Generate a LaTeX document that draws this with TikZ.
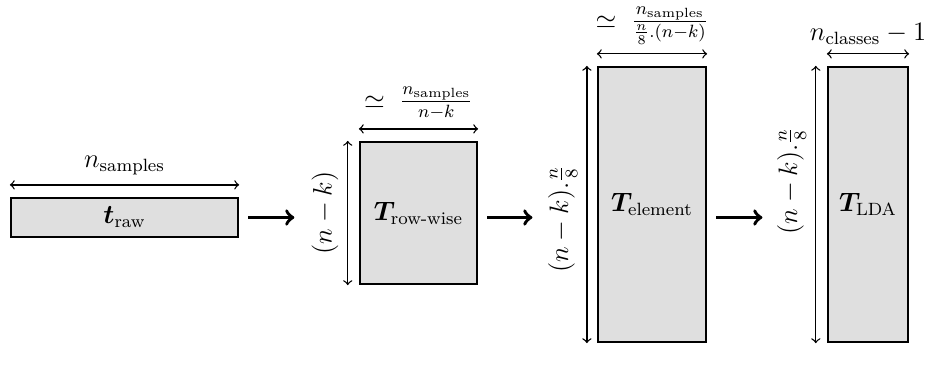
\documentclass[12pt,tikz,border=0pt]{standalone}
\usepackage{amsmath,bm}
\usetikzlibrary{positioning}
\tikzset{
  matbox/.style={draw, line width=1pt, fill=gray!25, inner sep=0pt},
  dimarrow/.style={<->, semithick},
  steparrow/.style={->, line width=1.6pt, shorten <=4pt, shorten >=29pt},
}
\begin{document}
\begin{tikzpicture}[x=0.45pt, y=-0.45pt]
\useasboundingbox (0,0) rectangle (928,374);

% the four matrices
\node[matbox, minimum width=102.2pt, minimum height=17.6pt] (raw) at (124.5,217.5) {$\bm{t}_{\text{raw}}$};
\node[matbox, minimum width=52.7pt, minimum height=63.9pt] (row) at (418.5,213) {$\bm{T}_{\text{row-wise}}$};
\node[matbox, minimum width=48.6pt, minimum height=123.8pt] (elem) at (652,204.5) {$\bm{T}_{\text{element}}$};
\node[matbox, minimum width=36pt, minimum height=123.8pt] (lda) at (868,204.5) {$\bm{T}_{\text{LDA}}$};

% widths
\draw[dimarrow] ([yshift=5.4pt]raw.north west) -- node[above] {$n_{\text{samples}}$} ([yshift=5.4pt]raw.north east);
\draw[dimarrow] ([yshift=5.4pt]row.north west) -- node[above] {$\simeq\; \frac{n_{\text{samples}}}{n-k}$} ([yshift=5.4pt]row.north east);
\draw[dimarrow] ([yshift=5.4pt]elem.north west) -- node[above] {$\simeq\; \frac{n_{\text{samples}}}{\frac{n}{8}.(n-k)}$} ([yshift=5.4pt]elem.north east);
\draw[dimarrow] ([yshift=5.4pt]lda.north west) -- node[above] {$n_{\text{classes}}-1$} ([yshift=5.4pt]lda.north east);

% heights
\draw[dimarrow] ([xshift=-5pt]row.south west) -- node[rotate=90, anchor=south] (rowlbl) {$(n-k)$} ([xshift=-5pt]row.north west);
\draw[dimarrow] ([xshift=-4.5pt]elem.south west) -- node[pos=0.447, rotate=90, anchor=south] (elemlbl) {$(n-k).\frac{n}{8}$} ([xshift=-4.5pt]elem.north west);
\draw[dimarrow] ([xshift=-5pt]lda.south west) -- node[pos=0.585, rotate=90, anchor=south] (ldalbl) {$(n-k).\frac{n}{8}$} ([xshift=-5pt]lda.north west);

% steps
\draw[steparrow] (raw.east) -- (raw.east -| row.west);
\draw[steparrow] (raw.east -| row.east) -- (raw.east -| elem.west);
\draw[steparrow] (raw.east -| elem.east) -- (raw.east -| lda.west);
\end{tikzpicture}
\end{document}
